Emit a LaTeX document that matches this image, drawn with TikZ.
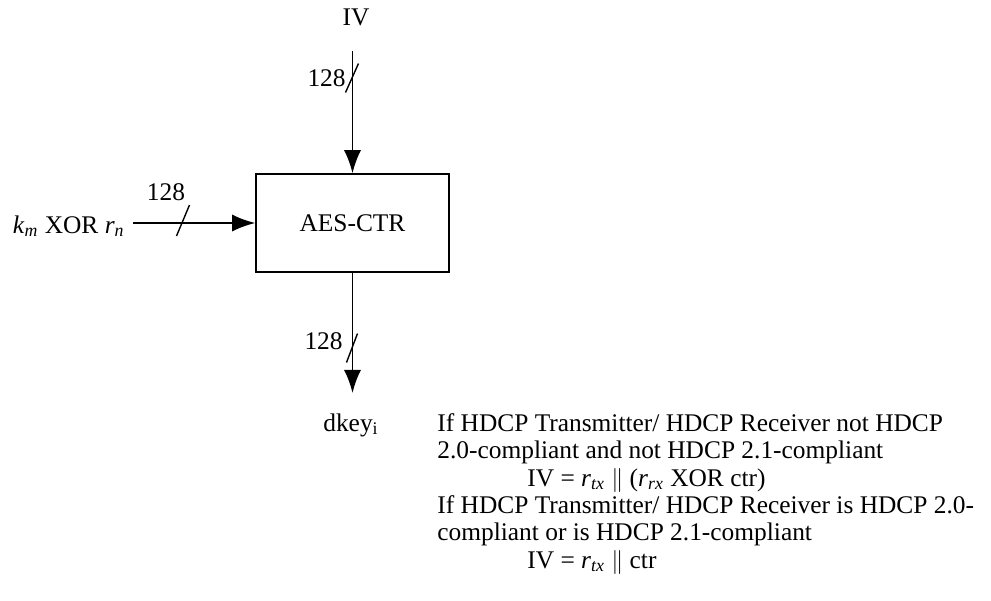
\documentclass[tikz,border=0pt]{standalone}
\usepackage{fontspec}
\setmainfont{Liberation Serif}
\usetikzlibrary{arrows.meta,positioning}

\begin{document}
\begin{tikzpicture}[x=0.5pt,y=-0.5pt,
  lbl/.style={inner sep=0pt,font=\fontsize{12.7}{13.7}\selectfont},
  bus/.style={->,>={Latex[length=11.5pt,width=8.5pt]},line width=0.8pt},
  tick/.style={line width=0.7pt}]
\useasboundingbox (0,0) rectangle (991,600);
% AES-CTR block
\node[lbl,draw=black,line width=0.8pt,minimum width=96.5pt,minimum height=49pt](AES) at (352.5,223){AES-CTR};
\node[lbl,anchor=base](IV) at (356,25){IV};
\node[lbl,anchor=base east](KX) at (125,233){\textit{k}\textsubscript{\textit{m}} XOR \textit{r}\textsubscript{\textit{n}}};
\node[lbl,anchor=base](DK) at (351,431){dkey\textsubscript{i}};
% bus widths
\node[lbl,anchor=east](W1) at (346,78){128};
\node[lbl](W2) at (166,192){128};
\node[lbl,anchor=east](W3) at (343,341){128};
% Arrows
\draw [bus,shorten <=12.5pt] (IV.south -| AES.north) -- (AES.north);
\draw [bus,shorten <=4pt] (KX.east |- AES.west) -- (AES.west);
\draw [bus,shorten >=10pt] (AES.south) -- (AES.south |- DK.north);
% Slashes
\draw[tick] (352,78) ++(-6.5,14.5) -- ++(13,-29);
\draw[tick] (183,221) ++(-6.5,15) -- ++(13,-31);
\draw[tick] (352,348) ++(-5.5,14.5) -- ++(11,-29);
% IV note
\node[lbl,anchor=north west,align=left](NOTE) at (437,413){If HDCP Transmitter/ HDCP Receiver not HDCP\\
2.0-compliant and not HDCP 2.1-compliant\\
\hspace*{45pt}IV = \textit{r}\textsubscript{\textit{tx}} $\|$ (\textit{r}\textsubscript{\textit{rx}} XOR ctr)\\
If HDCP Transmitter/ HDCP Receiver is HDCP 2.0-\\
compliant or is HDCP 2.1-compliant\\
\hspace*{45pt}IV = \textit{r}\textsubscript{\textit{tx}} $\|$ ctr};
\end{tikzpicture}
\end{document}
